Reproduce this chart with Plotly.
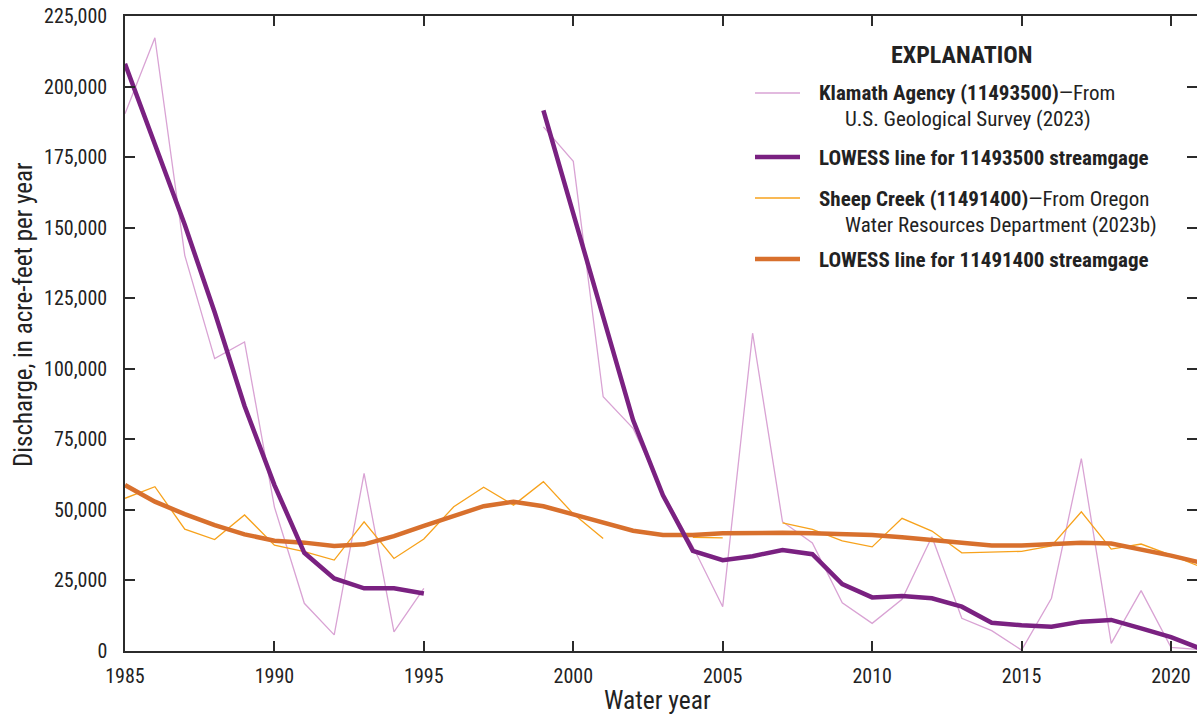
import plotly.graph_objects as go

# Water years 1985-2021
years = list(range(1985, 2022))

# Klamath Agency (11493500) annual discharge, acre-feet per year (no record 1996-1998)
klamath_q = [190400, 217300, 140200, 103600, 109500, 51000, 16900, 5700, 62900, 6800,
             22200, None, None, None, 185700, 173500, 90100, 78900, 56000, 37000,
             15700, 112600, 45800, 38300, 17100, 9800, 18300, 40500, 11600, 7200,
             300, 18700, 68200, 2700, 21400, 1300, 500]

# LOWESS line for 11493500
klamath_lowess = [208100, 179300, 151000, 120000, 86800, 58800, 34800, 25700, 22200, 22200,
                  20400, None, None, None, 191600, 155100, 118300, 81800, 55200, 35500,
                  32200, 33600, 35800, 34300, 23700, 19000, 19500, 18700, 15700, 10000,
                  9100, 8600, 10400, 11000, 8000, 4900, 800]

# Sheep Creek (11491400) annual discharge, acre-feet per year
sheep_q = [54100, 58200, 43200, 39500, 48200, 37500, 35200, 32200, 45800, 32800,
           39700, 51100, 58000, 51700, 60000, 48600, 39900, None, None, 40300,
           40100, None, 45400, 43100, 39000, 36900, 47000, 42500, 34800, 35100,
           35300, 37200, 49300, 36100, 37900, 34000, 29800]

# LOWESS line for 11491400
sheep_lowess = [58800, 52900, 48500, 44600, 41300, 39100, 38400, 37200, 37800, 40700,
                44300, 47800, 51300, 52900, 51300, 48400, 45400, 42600, 41100, 41100,
                41700, 42000, 41900, 41700, 41400, 41100, 40300, 39400, 38500, 37400,
                37400, 37900, 38400, 38100, 36000, 33800, 31300]

y_ticks = list(range(0, 225001, 25000))
x_ticks = list(range(1985, 2021, 5))

C_PINK = "#d9a3d4"
C_PURPLE = "#7a2181"
C_GOLD = "#f7a21c"
C_ORANGE = "#d8702d"
C_AXIS = "#2b2b2b"
C_TEXT = "#222222"

FONT = "Roboto Condensed, DejaVu Sans Condensed, sans-serif"

W, H = 1197, 717
ML, MR, MT, MB = 125, 0, 16, 66
PW, PH = W - ML - MR, H - MT - MB


def px(xp):
    return (xp - ML) / PW


def py(yp):
    return (H - MB - yp) / PH


fig = go.Figure()
fig.add_trace(go.Scatter(x=years, y=klamath_q, mode="lines",
                         line=dict(color=C_PINK, width=1.3), connectgaps=False,
                         name="Klamath Agency (11493500)", showlegend=False))
fig.add_trace(go.Scatter(x=years, y=sheep_q, mode="lines",
                         line=dict(color=C_GOLD, width=1.3), connectgaps=False,
                         name="Sheep Creek (11491400)", showlegend=False))
fig.add_trace(go.Scatter(x=years, y=sheep_lowess, mode="lines",
                         line=dict(color=C_ORANGE, width=4.5),
                         name="LOWESS line for 11491400 streamgage", showlegend=False))
fig.add_trace(go.Scatter(x=years, y=klamath_lowess, mode="lines",
                         line=dict(color=C_PURPLE, width=4.5), connectgaps=False,
                         name="LOWESS line for 11493500 streamgage", showlegend=False))
# invisible trace on the right-hand axis so its inside ticks are drawn
fig.add_trace(go.Scatter(x=[years[0]], y=[0], yaxis="y2", mode="lines",
                         line=dict(width=0), hoverinfo="skip", showlegend=False))

fig.update_layout(
    width=W, height=H,
    margin=dict(l=ML, r=MR, t=MT, b=MB, pad=0),
    paper_bgcolor="white", plot_bgcolor="white",
    font=dict(family=FONT, size=20, color=C_TEXT),
    xaxis=dict(range=[1985, 2020.87], tickvals=x_ticks, ticks="inside", ticklen=10,
               tickwidth=1.5, tickcolor=C_AXIS, showline=True, linecolor=C_AXIS,
               linewidth=1.5, mirror="ticks", showgrid=False, zeroline=False,
               ticklabelstandoff=6, tickfont=dict(size=20)),
    yaxis=dict(range=[0, 225000], tickvals=y_ticks, tickformat=",d", ticks="inside",
               ticklen=10, tickwidth=1.5, tickcolor=C_AXIS, showline=True,
               linecolor=C_AXIS, linewidth=1.5, showgrid=False, zeroline=False,
               ticklabelstandoff=12, tickfont=dict(size=20)),
    yaxis2=dict(range=[0, 225000], tickvals=y_ticks, overlaying="y", side="right",
                ticks="inside", ticklen=10, tickwidth=1.5, tickcolor=C_AXIS,
                showline=False, showgrid=False, zeroline=False, showticklabels=False),
)

ann = []
# axis titles
ann.append(dict(text="Water year", x=px(657), y=py(700), xref="paper", yref="paper",
                showarrow=False, xanchor="center", yanchor="middle",
                font=dict(size=25.5, color=C_TEXT)))
ann.append(dict(text="Discharge, in acre-feet per year", x=px(23), y=py(315),
                xref="paper", yref="paper", textangle=-90, showarrow=False,
                xanchor="center", yanchor="middle", font=dict(size=25, color=C_TEXT)))

# explanation box
ann.append(dict(text="<b>EXPLANATION</b>", x=px(961), y=py(55), xref="paper", yref="paper",
                showarrow=False, xanchor="center", yanchor="middle",
                font=dict(size=24, color=C_TEXT)))

key_rows = [
    (C_PINK, 1.3, 93, [("<b>Klamath Agency (11493500)</b>—From", 817, 93),
                       ("U.S. Geological Survey (2023)", 843, 119)]),
    (C_PURPLE, 4.5, 157, [("<b>LOWESS line for 11493500 streamgage</b>", 817, 158)]),
    (C_GOLD, 1.3, 198, [("<b>Sheep Creek (11491400)</b>—From Oregon", 817, 199),
                        ("Water Resources Department (2023b)", 843, 225)]),
    (C_ORANGE, 4.5, 259, [("<b>LOWESS line for 11491400 streamgage</b>", 817, 260)]),
]
shapes = []
for color, width, ky, lines in key_rows:
    shapes.append(dict(type="line", xref="paper", yref="paper", x0=px(755), x1=px(800),
                       y0=py(ky), y1=py(ky), line=dict(color=color, width=width)))
    for text, tx, ty in lines:
        ann.append(dict(text=text, x=px(tx), y=py(ty), xref="paper", yref="paper",
                        showarrow=False, xanchor="left", yanchor="middle",
                        font=dict(size=21, color=C_TEXT)))

fig.update_layout(annotations=ann, shapes=shapes)

fig.write_html("out.html")
